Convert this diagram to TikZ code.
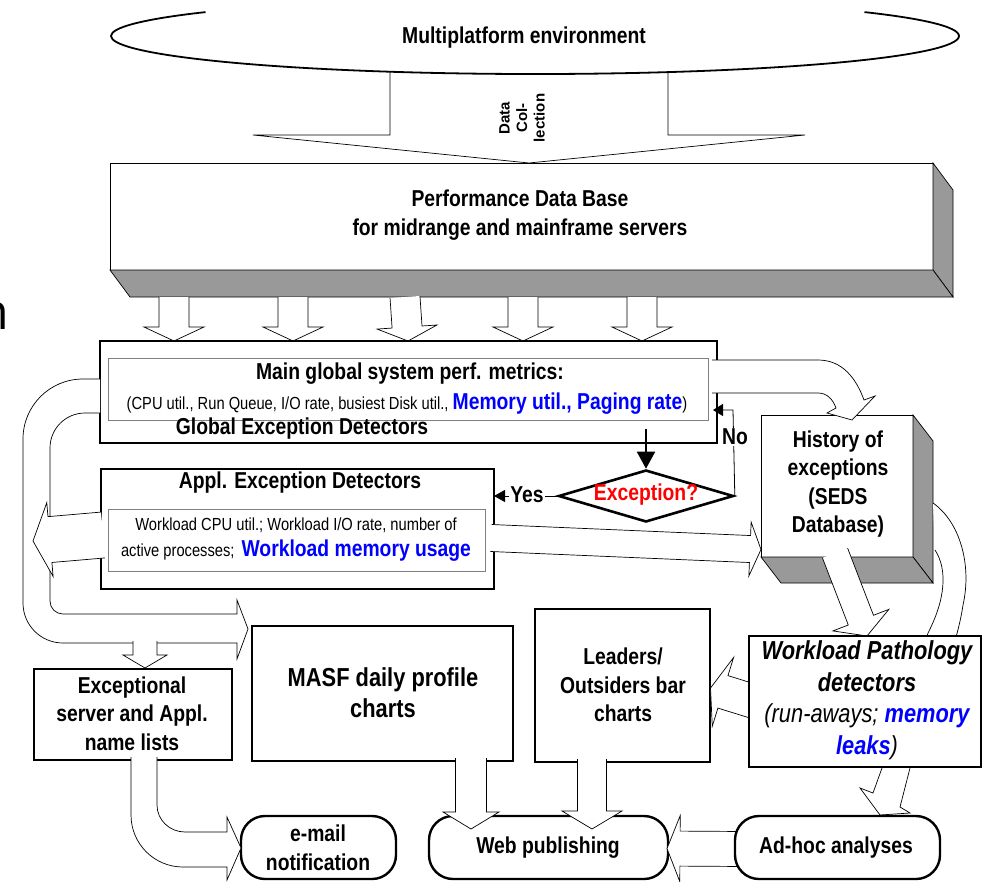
\documentclass[tikz,border=0pt]{standalone}
\usepackage{fontspec}
\setmainfont{Liberation Sans}
\newfontfamily\narrowsf[FakeStretch=0.84]{Liberation Sans}
\newfontfamily\opensans{Open Sans}
\usetikzlibrary{shapes.geometric,calc,arrows.meta}

\newcommand\tbig{\narrowsf\bfseries\fontsize{23}{28.5}\selectfont}
\newcommand\tlarge{\narrowsf\bfseries\fontsize{26}{31.5}\selectfont}
\newcommand\tsmall{\narrowsf\mdseries\fontsize{17.5}{21}\selectfont}

\tikzset{
  thickbox/.style={draw=black, line width=2.6pt, fill=white, inner sep=0pt, outer sep=0pt, anchor=north west},
  thinbox/.style={draw=black!50, line width=0.8pt, fill=white, inner sep=0pt, outer sep=0pt, anchor=north west},
  solidbox/.style={draw=black, line width=0.7pt, fill=white, inner sep=0pt, outer sep=0pt, anchor=north west},
  roundbox/.style={draw=black, line width=2.4pt, fill=white, rounded corners=24pt, inner sep=0pt, outer sep=0pt, anchor=north west},
  fat/.style={draw=black, line width=0.7pt, fill=white, line join=miter},
  face/.style={draw=black, line width=0.7pt, fill=black!40, line join=miter},
  lbl/.style={font=\tbig, align=center, inner sep=0pt},
  thin/.style={draw=black, line width=0.8pt},
}

% block arrow between two named coordinates:
% #1 start, #2 tip, #3 shaft half width, #4 head half width, #5 head length
\newdimen\fax \newdimen\fay \newdimen\fbx \newdimen\fby
\newcommand\fatarrow[5]{%
  \pgfextractx{\fax}{\pgfpointanchor{#1}{center}}%
  \pgfextracty{\fay}{\pgfpointanchor{#1}{center}}%
  \pgfextractx{\fbx}{\pgfpointanchor{#2}{center}}%
  \pgfextracty{\fby}{\pgfpointanchor{#2}{center}}%
  \pgfmathsetmacro\fadx{\fbx-\fax}%
  \pgfmathsetmacro\fady{\fby-\fay}%
  \pgfmathsetmacro\falen{veclen(\fadx,\fady)}%
  \pgfmathsetmacro\faang{atan2(\fady,\fadx)}%
  \pgfmathsetmacro\fab{\falen-#5}%
  \begin{scope}[shift={(\the\fax,\the\fay)}, rotate=\faang]
    \path[fat] (0pt,#3pt) -- (\fab pt,#3pt) -- (\fab pt,#4pt) -- (\falen pt,0pt)
      -- (\fab pt,-#4pt) -- (\fab pt,-#3pt) -- (0pt,-#3pt);
  \end{scope}}

\begin{document}
\begin{tikzpicture}[x=1pt,y=-1pt]
\useasboundingbox (0,0) rectangle (982,881);

% partial glyph at the left edge
\node[anchor=base east, inner sep=0pt, font=\opensans\fontsize{50}{50}\selectfont] (ncut) at (9,329) {n};

% ---------- data collection ----------
\coordinate (eS) at (529,60);
\coordinate (eT) at (529,163);
\fatarrow{eS}{eT}{139}{276}{28}
\node[ellipse, fill=white, minimum width=848, minimum height=76, inner sep=0pt] (env) at (535,36) {};
% only the lower part of the outline is shown
\draw[black, line width=1.8pt] (864.5,12.1) arc[start angle=39, end angle=-219, x radius=424pt, y radius=38pt];
\node[lbl] (envtxt) at (524,38) {Multiplatform environment};
\node[rotate=90, align=center, inner sep=0pt, font=\bfseries\fontsize{15}{17.5}\selectfont] (coll) at (522,118) {Data\\Col-\\lection};

% ---------- performance data base ----------
\node[solidbox, minimum width=823, minimum height=107] (pdb) at (110,163) {};
\path[face] (pdb.north east) -- ++(20,27) -- ++(0,107) -- (pdb.south east) -- cycle;
\path[face] (pdb.south west) -- ++(20,27) -- ++(823,0) -- (pdb.south east) -- cycle;
\node[lbl] (pdbtxt) at (520,215) {Performance Data Base\\for midrange and mainframe servers};

\foreach \i/\xa/\xb in {1/174/174, 2/293/293, 3/405/408, 4/523/523, 5/642/642} {
  \coordinate (ds\i) at (\xa,297);
  \coordinate (dt\i) at (\xb,341);
  \fatarrow{ds\i}{dt\i}{15}{30}{14}
}

% ---------- global exception detectors ----------
\node[thickbox, minimum width=617, minimum height=102] (gmain) at (100,341) {};
\node[thinbox, minimum width=600, minimum height=62] (gin) at (108,358) {};
\node[lbl] (gtitle) at (410,374) {Main global system perf. metrics:};
\node[inner sep=0pt] (gline) at (407,404) {\tsmall (CPU util., Run Queue, I/O rate, busiest Disk util., {\tbig\color{blue}Memory util., Paging rate}\tsmall)};
\node[lbl] (gdet) at (302,429) {Global Exception Detectors};

% ---------- application exception detectors ----------
\node[thickbox, minimum width=393, minimum height=120] (appl) at (101,469) {};
\node[thinbox, minimum width=377, minimum height=62] (ain) at (108,509) {};
\node[lbl] (atitle) at (300,483) {Appl. Exception Detectors};
\node[inner sep=0pt, font=\tsmall] (aline1) at (296,525) {Workload CPU util.; Workload I/O rate, number of};
\node[inner sep=0pt] (aline2) at (296,551) {\tsmall active processes;\hspace{7pt}{\tbig\color{blue}Workload memory usage}};

% ---------- decision ----------
\node[diamond, draw=black, line width=2.6pt, fill=white, minimum width=175, minimum height=52, inner sep=0pt] (dia) at (646,496) {};
\node[lbl, text=red] (diatxt) at (646,495) {Exception?};
\coordinate (gdown) at (646,429);
\draw[black, line width=2pt, -{Triangle[length=17pt,width=18pt]}] (gdown) -- (dia.north);
\coordinate (nocorner) at (733,410);
\coordinate (noend) at (713,410);
\draw[thin, -{Triangle[length=10pt,width=12pt]}] (dia.east) -- (nocorner) -- (noend);
\node[lbl, fill=white, inner sep=1pt] (nolbl) at (735,437) {No};
\coordinate (yesend) at (494,496);
\draw[thin, -{Triangle[length=11pt,width=12pt]}] (dia.west) -- (yesend);
\node[lbl, fill=white, inner sep=1pt] (yeslbl) at (527,495) {Yes};

% ---------- history of exceptions ----------
\node[solidbox, minimum width=152, minimum height=142] (hist) at (761,415) {};
\path[face] (hist.north east) -- ++(20,26) -- ++(0,142) -- (hist.south east) -- cycle;
\path[face] (hist.south west) -- ++(20,26) -- ++(152,0) -- (hist.south east) -- cycle;
\node[lbl] (histtxt) at (838,484) {History of\\exceptions\\(SEDS\\Database)};

% global metrics into the history
\path[fat] (712,360) -- (818,360) to[out=0,in=110] (864,400) -- (875,396) -- (852,420)
  -- (827,413) -- (836,408) to[out=110,in=0] (818,393) -- (712,393);

% application metrics into the history
\coordinate (ahS) at (491,538);
\coordinate (ahT) at (761,549.5);
\fatarrow{ahS}{ahT}{13.5}{27}{11}

% history to pathology detectors
\coordinate (hwS) at (835,553);
\coordinate (hwT) at (867,636);
\fatarrow{hwS}{hwT}{13.5}{30}{17}

% history to ad-hoc analyses (passes behind the detectors)
\path[fat] (933,503) .. controls (960,522) and (972,565) .. (963,605)
  .. controls (955,660) and (920,730) .. (910,768) -- (900,807) -- (910,813) -- (880,815)
  -- (860,788) -- (873,793) -- (882,768)
  .. controls (900,720) and (920,660) .. (928,633)
  .. controls (945,600) and (948,570) .. (935,550);

% ---------- exceptions loop on the left ----------
\path[fat] (100,379) -- (83,379) to[out=180,in=90] (23,439) -- (23,603) to[out=-90,in=180] (63,643)
  -- (237,643) -- (237,659) -- (248,629) -- (237,600) -- (237,614) -- (63,614)
  to[out=180,in=-90] (50,601) -- (50,448) to[out=90,in=180] (85,413) -- (100,413);
\coordinate (alS) at (103,535);
\coordinate (alT) at (33,541);
\fatarrow{alS}{alT}{23}{37}{17}
\coordinate (exS) at (145,641);
\coordinate (exT) at (145,668);
\fatarrow{exS}{exT}{12}{22}{13}

% ---------- reports ----------
\node[thickbox, minimum width=198, minimum height=91] (exc) at (34,669) {};
\node[lbl] (exctxt) at (132,713.5) {Exceptional\\server and Appl.\\name lists};
\node[thickbox, minimum width=261, minimum height=135] (masf) at (252,626) {};
\node[lbl, font=\tlarge] (masftxt) at (383,692.5) {MASF daily profile\\charts};
\node[thickbox, minimum width=175, minimum height=153] (lead) at (535,609) {};
\node[lbl] (leadtxt) at (623,685) {Leaders/\\Outsiders bar\\charts};

\coordinate (wlS) at (775,708);
\coordinate (wlT) at (710.5,688);
\fatarrow{wlS}{wlT}{17}{36}{13}
\node[thickbox, minimum width=232, minimum height=131] (wpd) at (749,636) {};
\node[align=center, inner sep=0pt, font=\tlarge\itshape] (wpdtxt) at (867,700.5)
  {Workload Pathology\\detectors\\{\mdseries(run-aways; }{\color{blue}memory}\\{\color{blue}leaks}{\mdseries)}};

% ---------- outputs ----------
\node[roundbox, minimum width=155, minimum height=63] (mail) at (241,816) {};
\node[lbl] (mailtxt) at (318,848) {e-mail\\notification};
\node[roundbox, minimum width=239, minimum height=63] (web) at (429,816) {};
\node[lbl] (webtxt) at (548,848) {Web publishing};

\path[fat] (131,757) -- (131,815) to[out=-90,in=180] (183,867) -- (227,867) -- (227,880)
  -- (241,848) -- (227,817) -- (227,832) -- (185,832) to[out=180,in=-90] (157,805) -- (157,757);
\coordinate (mwS) at (471,758);
\coordinate (mwT) at (471,829);
\fatarrow{mwS}{mwT}{15.5}{28}{17}
\coordinate (lwS) at (592,759);
\coordinate (lwT) at (592,829);
\fatarrow{lwS}{lwT}{14.5}{30}{18}
\coordinate (awS) at (745,849);
\coordinate (awT) at (667,848.5);
\fatarrow{awS}{awT}{17.5}{33}{13}

\node[roundbox, minimum width=205, minimum height=63] (adhoc) at (735,816) {};
\node[lbl] (adhoctxt) at (836,848) {Ad-hoc analyses};
\end{tikzpicture}
\end{document}
